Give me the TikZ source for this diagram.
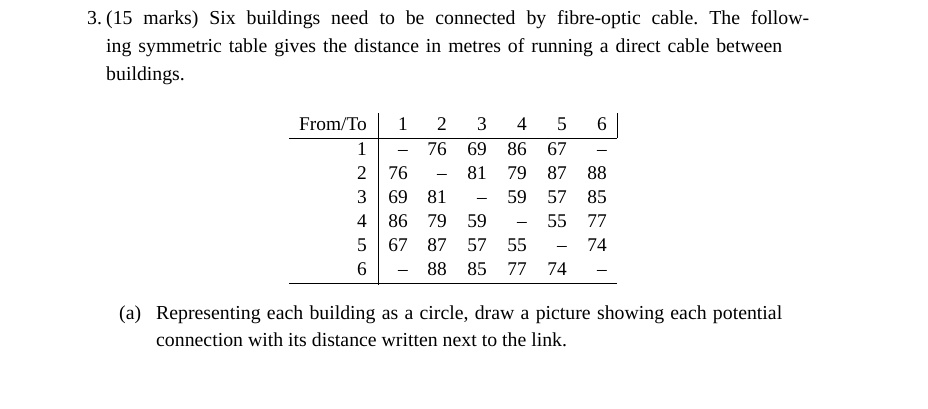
\documentclass[tikz,border=0pt]{standalone}
\usepackage{fontspec}
\setmainfont{Liberation Serif}
\begin{document}
\frenchspacing
\begin{tikzpicture}[x=1pt,y=-1pt,
  txt/.style={anchor=base west,inner sep=0pt,font=\fontsize{19.8}{23}\selectfont},
  cell/.style={anchor=base east,inner sep=0pt,font=\fontsize{19.4}{23}\selectfont}]
\useasboundingbox (0,0) rectangle (928,408);
\node[txt] (n3) at (87,24) {3.};
\node[txt] (l1) at (106,24) {\makebox[703pt][s]{(15 marks) Six buildings need to be connected by fibre-optic cable. The follow-}};
\node[txt] (l2) at (106,52) {\makebox[676pt][s]{ing symmetric table gives the distance in metres of running a direct cable between}};
\node[txt] (l3) at (106,80) {buildings.};
% table
\draw[line width=0.6pt] (289,138) -- (617,138);
\draw[line width=0.6pt] (289,283) -- (617,283);
\draw[line width=0.6pt] (378,113) -- (378,285);
\draw[line width=0.6pt] (617,113) -- (617,138);
\node[cell] (h0) at (367,130) {From/To};
\foreach \c/\x in {1/408,2/447,3/487,4/527,5/567,6/607}{
  \node[cell] (h\c) at (\x,130) {\c};
}
\foreach \r/\vals [count=\i] in {1/{–,76,69,86,67,–},2/{76,–,81,79,87,88},3/{69,81,–,59,57,85},4/{86,79,59,–,55,77},5/{67,87,57,55,–,74},6/{–,88,85,77,74,–}}{
  \pgfmathsetmacro{\yy}{131+24*\i}
  \node[cell] (r\r) at (367,\yy) {\r};
  \foreach \v/\x [count=\j] in \vals {
    \ifnum\j=1 \def\xx{408}\fi
    \ifnum\j=2 \def\xx{447}\fi
    \ifnum\j=3 \def\xx{487}\fi
    \ifnum\j=4 \def\xx{527}\fi
    \ifnum\j=5 \def\xx{567}\fi
    \ifnum\j=6 \def\xx{607}\fi
    \node[cell] (c\r\j) at (\xx,\yy) {\v};
  }
}
\node[txt] (na) at (119,319) {(a)};
\node[txt] (a1) at (156,319) {\makebox[626pt][s]{Representing each building as a circle, draw a picture showing each potential}};
\node[txt] (a2) at (156,346) {connection with its distance written next to the link.};
\end{tikzpicture}
\end{document}
